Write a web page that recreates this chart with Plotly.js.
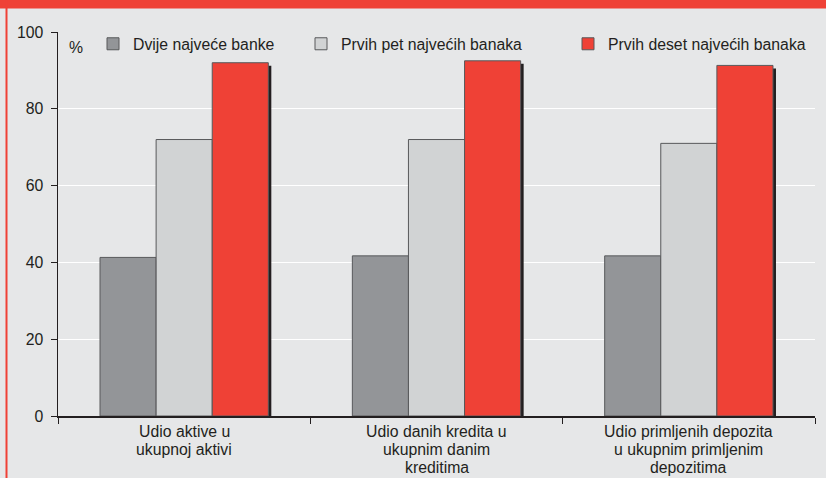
<!DOCTYPE html>
<html>
<head>
<meta charset="utf-8">
<script src="https://cdn.plot.ly/plotly-3.0.1.min.js"></script>
<style>html,body{margin:0;padding:0;background:#e6e7e8;}#chart{width:826px;height:478px;}</style>
</head>
<body>
<div id="chart"></div>
<script>
var categories = ["Udio aktive u<br>ukupnoj aktivi", "Udio danih kredita u<br>ukupnim danim<br>kreditima", "Udio primljenih depozita<br>u ukupnim primljenim<br>depozitima"];
var seriesNames = ["Dvije najveće banke", "Prvih pet najvećih banaka", "Prvih deset najvećih banaka"];
var dvijeNajvece = [41.3, 41.7, 41.7];
var prvihPet = [72.0, 72.0, 71.0];
var prvihDeset = [92.0, 92.5, 91.3];
var yTickVals = [0, 20, 40, 60, 80, 100];

var seriesValues = [dvijeNajvece, prvihPet, prvihDeset];
var colors = ["#939598", "#d1d3d4", "#ef4136"];
var legendIds = ["legend", "legend2", "legend3"];
var font = {family: "Liberation Sans, Arial, sans-serif", size: 15.8, color: "#231f20"};

var W = 826, H = 478, mL = 58, mR = 11, mT = 32, mB = 62;
var plotW = W - mL - mR, plotH = H - mT - mB;
var xRange = [-0.5, 2.5], yRange = [0, 100];
var sh = 3; // shadow offset in px
var dx = sh * (xRange[1] - xRange[0]) / plotW;
var dy = sh * (yRange[1] - yRange[0]) / plotH;

var traces = [];
seriesValues.forEach(function (vals, i) {
  traces.push({
    type: "bar", x: categories, y: vals, xaxis: "x", yaxis: "y",
    marker: {color: "#231f20", line: {width: 0}},
    showlegend: false, hoverinfo: "skip"
  });
});
seriesValues.forEach(function (vals, i) {
  traces.push({
    type: "bar", name: seriesNames[i], x: categories, y: vals, xaxis: "x2", yaxis: "y2",
    marker: {color: colors[i], line: {color: "#58595b", width: 1}},
    legend: legendIds[i]
  });
});

var legendBase = {
  orientation: "h", yanchor: "middle", y: (plotH - (44 - mT)) / plotH,
  xanchor: "left", bgcolor: "rgba(0,0,0,0)", font: font, borderwidth: 0
};
function legendAt(px) { return Object.assign({}, legendBase, {x: (px - mL) / plotW}); }

var annotations = [{
  text: "%", xref: "paper", yref: "paper", x: (67 - mL) / plotW, y: (plotH - (48 - mT)) / plotH,
  xanchor: "left", yanchor: "middle", showarrow: false, font: font
}];
categories.forEach(function (cat, ci) {
  cat.split("<br>").forEach(function (line, li) {
    annotations.push({
      text: line, xref: "x2", yref: "paper", x: cat, y: 0,
      xanchor: "center", yanchor: "middle", yshift: -(15 + li * 18),
      showarrow: false, font: font
    });
  });
});

var layout = {
  width: W, height: H,
  margin: {l: mL, r: mR, t: mT, b: mB, pad: 0},
  paper_bgcolor: "#e6e7e8", plot_bgcolor: "#e6e7e8",
  font: font,
  barmode: "group", bargap: 0.333, bargroupgap: 0,
  showlegend: true,
  legend: legendAt(93), legend2: legendAt(301), legend3: legendAt(568),
  xaxis: {type: "category", range: [xRange[0] - dx, xRange[1] - dx], visible: false, fixedrange: true},
  yaxis: {range: [yRange[0] + dy, yRange[1] + dy], visible: false, fixedrange: true},
  xaxis2: {
    type: "category", overlaying: "x", range: xRange, anchor: "y2",
    showline: true, linecolor: "#231f20", linewidth: 2,
    ticks: "outside", tickson: "boundaries", ticklen: 6, tickcolor: "#231f20", tickwidth: 1,
    showgrid: false, showticklabels: false
  },
  yaxis2: {
    overlaying: "y", range: yRange, anchor: "x2", side: "left",
    tickvals: yTickVals, showline: true, linecolor: "#231f20", linewidth: 1.5,
    ticks: "outside", ticklen: 6, tickcolor: "#231f20", tickwidth: 1,
    showgrid: true, gridcolor: "#ffffff", gridwidth: 1.2, zeroline: false,
    tickfont: font, ticklabelstandoff: 4
  },
  annotations: annotations,
  shapes: [
    {type: "rect", xref: "paper", yref: "paper", x0: -mL / plotW, x1: 1 + mR / plotW,
     y0: 1 + (mT - 8.5) / plotH, y1: 1 + mT / plotH, fillcolor: "#ef4136", line: {width: 0}, layer: "below"},
    {type: "line", xref: "paper", yref: "paper", x0: -(mL - 6.5) / plotW, x1: -(mL - 6.5) / plotW,
     y0: -mB / plotH, y1: 1 + mT / plotH, line: {color: "#ef4136", width: 2}, layer: "below"}
  ]
};

Plotly.newPlot("chart", traces, layout, {displayModeBar: false, staticPlot: true});
</script>
</body>
</html>
